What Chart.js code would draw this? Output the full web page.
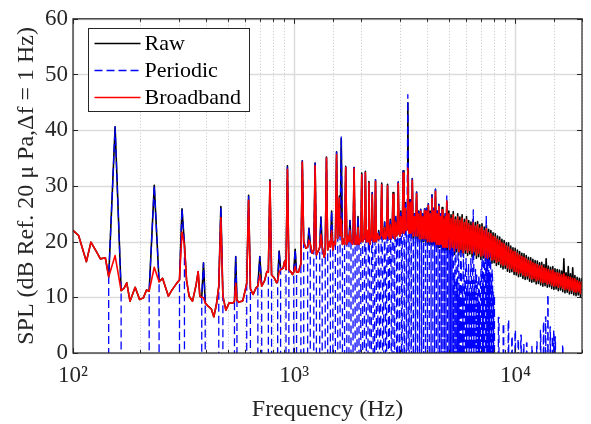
<!DOCTYPE html>
<html>
<head>
<meta charset="utf-8">
<script src="https://cdn.jsdelivr.net/npm/chart.js@4.4.1/dist/chart.umd.min.js"></script>
<style>
  html, body { margin: 0; padding: 0; background: #fff; }
  #wrap { width: 591px; height: 424px; }
</style>
</head>
<body>
<div id="wrap"><canvas id="spl"></canvas></div>
<script>
/* ── SPL spectrum: raw, periodic and broadband parts ── */

// common frequency grid (Hz) for the raw and broadband spectra
const freq = [
  100,106,115,120.5,128,133,140,145,155,165,
  170,175,181,191,200,208,215,221,233,245,
  254,270,279,294,303,311,319,326,335,347,
  360,368,374.5,382,389,396,408,422,433,445,
  456,466,476,491,508,530,537,544,551,562,
  586,610,622,634,652,672,685,699,713,735,
  752,764,777,790,812,833,842,855,868,890,
  905,918,932,946,965,983,995,1010,1025,1045,
  1062,1072,1088,1104,1130,1150,1166,1182,1205,1227,
  1243,1260,1290,1305,1321,1339,1365,1381,1399,1417,
  1445,1458,1476,1495,1520,1535,1554,1572,1600,1612,
  1632,1652,1680,1690,1709,1730,1755,1768,1787,1806,
  1835,1845,1865,1885,1912,1923,1943,1963,1990,2000,
  2020,2040,2065,2078,2098,2118,2145,2156,2176,2196,
  2225,2233,2253,2275,2300,2311,2331,2352,2380,2389,
  2409,2430,2460,2486,2508,2540,2564,2590,2618,2642,
  2668,2695,2720,2748,2772,2797,2822,2850,2875,2903,
  2928,2953,2980,3005,3030,3060,3082,3108,3135,3160,
  3186,3215,3238,3263,3292,3315,3341,3370,3395,3419,
  3450,3497,3535,3574,3612,3652,3690,3730,3770,3807,
  3846,3885,3925,3963,4000,4040,4080,4118,4160,4196,
  4235,4274,4310,4351,4390,4429,4470,4507,4545,4584,
  4625,4662,4700,4740,4780,4817,4855,4895,4935,
  5000,5058,5117,5176,5236,5297,5358,5420,5483,5546,
  5610,5675,5741,5808,5875,5943,6012,6081,6152,6223,
  6295,6368,6442,6516,6592,6668,6745,6823,6902,6982,
  7063,7145,7228,7311,7396,7482,7568,7656,7745,7834,
  7925,8017,8110,8204,8299,8395,8492,8590,8690,8790,
  8892,8995,9099,9204,9311,9419,9528,9638,9750,9863,
  9977,10093,10209,10328,10447,10568,10691,10814,10940,11066,
  11194,11324,11455,11588,11722,11858,11995,12134,12274,12417,
  12560,12706,12853,13002,13152,13305,13458,13614,13772,13932,
  14093,14256,14421,14588,14757,14928,15101,15276,15453,15631,
  15812,15996,16181,16368,16558,16749,16943,17140,17338,17539,
  17742,17947,18155,18365,18578,18793,19011,19231,19454,19679,
  19907,20000
];

// raw spectrum (dB)
const rawLevel = [
  22.0,21.1,16.4,19.9,18.1,16.9,17.1,13.7,40.6,11.2,
  11.6,12.6,9.3,11.8,9.6,9.9,11.3,11.1,30.1,12.8,
  13.4,10.2,11.2,12.5,13.1,25.9,19.5,13.1,10.2,9.3,
  12.2,14.6,10.2,10.0,16.2,9.0,8.4,7.9,6.5,8.7,
  11.9,26.3,10.2,7.7,9.0,9.0,9.3,17.3,9.5,9.1,
  9.4,12.5,28.3,11.5,10.5,11.7,12,17.3,12,13,
  14.6,14.5,31.1,14,13.5,12.6,13,18.3,15,15.2,
  16.5,15,33.6,15,14.6,14.1,14.5,18.6,14.5,14.5,
  15.5,16,34.5,19.9,18.8,19,22.4,19.6,17.9,18.5,
  34.1,17.6,18.5,19,24.4,19,17.2,18,35.2,18.5,
  20,19,25.5,18.5,20,19.5,36.1,20.5,28.2,21,
  38.5,19.5,20.5,19.5,33.5,19.5,21,20,23.8,20,
  19.5,20.5,33.3,19.5,21,19.5,24.5,19.5,20.5,20,
  32.3,20,21,20.5,32.6,20,22,20,30.8,19.5,
  21.1,20.5,28.8,20,21,20,31.1,20,21.4,20.5,
  22,20.5,21,30.5,21,20.5,23.5,20.5,21,30.3,
  21,20.5,24,20.5,21.5,28.8,21,20.5,24.5,21,
  21.5,30.7,21.5,21,25.5,21.5,22,32.7,21.5,22,
  27,22,22.5,44.9,22,21.5,27.5,21.5,22,31.3,
  20.5,25,20.5,28.9,20.5,25.5,20,25.8,20,25,
  20,25.9,20,26,19.5,26.8,19.5,25.5,19.5,28.4,
  19.5,26,19.5,29.4,19,25.5,19,26.7,19,25,
  19,26.1,18.5,24.5,18.5,25,18.5,27.3,18.5,
  25.5,18.0,24.8,18.4,25.4,17.7,24.4,18.2,25.0,17.6,
  24.4,18.0,24.8,17.4,24.0,17.9,24.5,17.5,23.8,17.8,
  23.5,17.3,24.0,17.6,23.4,17.0,23.6,17.3,23.0,16.8,
  23.2,17.0,22.6,16.6,22.9,16.4,22.2,16.7,22.0,16.1,
  21.6,16.2,21.4,15.7,21.0,15.9,20.8,15.4,20.4,15.1,
  20.2,15.2,19.8,14.7,19.8,14.5,19.2,14.6,18.9,14.1,
  18.8,14.0,18.5,13.7,18.2,13.8,17.9,13.4,17.8,13.2,
  17.5,13.3,17.2,12.9,17.1,12.7,16.8,12.8,16.6,12.4,
  16.5,12.5,16.2,12.2,16.3,12.0,15.9,12.1,16.9,11.8,
  15.6,11.9,15.4,11.6,15.5,11.4,15.1,11.5,15.0,11.2,
  14.9,11.3,14.7,11.0,16.9,10.8,14.4,10.9,15.5,10.6,
  14.2,10.7,15.3,10.4,13.9,10.3,13.6,10.4,13.4,10.1,
  13.3,11.2
];

// broadband part (dB)
const broadbandLevel = [
  22.0,21.1,16.4,19.9,18.1,16.9,17.1,13.7,17.5,11.2,
  11.6,12.6,9.3,11.8,9.6,9.9,11.3,11.1,15.4,12.8,
  13.4,10.2,11.2,12.5,13.1,21.7,19.4,13.1,10.2,9.3,
  12.2,14.6,10.2,10.0,9.9,9.0,8.4,7.9,6.5,8.7,
  11.9,24.3,10.2,7.7,9.0,9.0,9.3,12.5,9.5,9.1,
  9.4,12.5,27.4,11.5,10.5,11.7,12,14,12,13,
  14.6,14.5,30.8,14,13.5,12.6,13,14.5,15,15.2,
  16.5,15,33.0,15,14.6,14.1,14.5,15.5,14.5,14.5,
  15.5,16,34.3,19.9,18.8,19,20.3,19.6,17.9,18.5,
  33.6,17.6,18.5,19,21.3,19,17.2,18,35.0,18.5,
  20,19,22.0,18.5,20,19.5,35.6,20.5,27.8,21,
  24,19.5,20.5,19.5,33.3,19.5,21,20,22,20,
  19.5,20.5,33.1,19.5,21,19.5,22.5,19.5,20.5,20,
  32.0,20,21,20.5,32.4,20,22,20,30.5,19.5,
  21.1,20.5,28.4,20,21,20,30.8,20,21.4,20.5,
  21,20.5,21,30.2,21,20.5,22.5,20.5,21,30.0,
  21,20.5,23,20.5,21.5,28.5,21,20.5,23.5,21,
  21.5,30.4,21.5,21,24.5,21.5,22,32.3,21.5,22,
  26,22,22.5,33.2,22,21.5,27,21.5,22,31.0,
  21,24.5,21,28.6,21,25,20.5,25.5,20.5,24.5,
  20.5,25.6,20.5,25.5,20,26.5,20,25,20,27.8,
  20,25.5,20,29,19.5,25,19.5,26.3,19.5,24.5,
  19.5,25.7,19,24,19,24.5,19,27.3,19,
  25.0,18.6,24.2,19.0,24.8,18.3,23.9,18.8,24.4,18.2,
  23.8,18.6,24.2,18.0,23.4,18.5,23.9,18.1,23.2,18.4,
  22.9,17.9,23.4,18.2,22.8,17.6,23.0,17.9,22.4,17.4,
  22.6,17.6,22.0,17.2,22.3,17.0,21.6,17.3,21.4,16.7,
  21.0,16.8,20.8,16.3,20.4,16.5,20.2,16.0,19.8,15.7,
  19.6,15.8,19.2,15.3,19.0,15.1,18.6,15.2,18.3,14.7,
  18.2,14.6,17.9,14.3,17.6,14.4,17.3,14.0,17.2,13.8,
  16.9,13.9,16.6,13.5,16.5,13.3,16.2,13.4,16.0,13.0,
  15.9,13.1,15.6,12.8,15.7,12.6,15.3,12.7,15.2,12.4,
  15.0,12.5,14.8,12.2,14.9,12.0,14.5,12.1,14.4,11.8,
  14.3,11.9,14.1,11.6,14.2,11.4,13.8,11.5,13.7,11.2,
  13.6,11.3,13.4,11.0,13.3,10.9,13.0,11.0,12.8,10.7,
  12.7,11.6
];

// periodic part: one spike per harmonic (Hz), apex and shoulder levels (dB), half width (Hz)
const periodicFreq = [
  155,233,311,389,466,544,622,699,777,855,
  932,1010,1088,1166,1243,1321,1399,1476,1554,1632,
  1709,1787,1865,1943,2020,2098,2176,2253,2331,2409,
  2486,2564,2642,2720,2797,2875,2953,3030,3108,3186,
  3263,3341,3419,3497,3574,3652,3730,3807,3885,3963,
  4040,4118,4196,4274,4351,4429,4507,4584,4662,4740,
  4817,4895,4973,5051,5128,5206,5284,5361,5439,5517,
  5594,5672,5750,5828,5905,5983,6061,6138,6216,6294,
  6371,6449,6527,6605,6682,6760,6838,6915,6993,7071,
  7148,7226,7304,7382,7459,7537,7615,7692,7770,7848,
  7925,8003,
  8400,8830,9300,9650,9980,10300,10600,10900,11250,11900,
  12500,13000,13400,13700,14030,14370,14700,14920,15150,16370
];
const periodicPeak = [
  40.6,30.1,25.9,16.2,26.3,17.3,28.3,17.3,31.1,18.3,
  33.6,18.6,34.5,22.4,34.1,24.4,35.2,25.5,36.1,38.9,
  33.5,23.8,33.3,24.5,32.3,32.6,30.8,28.8,31.1,22,
  30.5,23.5,30.3,24,28.8,24.5,30.7,25.5,32.7,27,
  46.4,27.5,31.3,25,28.9,25.5,25.8,25,25.9,26,
  26.8,25.5,28.4,26,29.4,25.5,26.7,25,26.1,24.5,
  25,28.2,24.5,22,21,22,14,21,13,20,
  12,19,11,18,13,17,12,16,11,17,
  12,25.7,12,15,14,10,14,9,15,17,
  13,19,14,24.6,17,18,14,18,13,15,
  11,10.5,
  6.4,5.3,5.9,3,4.1,2.5,3.2,1.5,1.8,1.2,
  2,4.1,5.6,6.5,10.5,4.7,3,4.1,2.9,1.5
];
const periodicShoulderL = [
  13.7,11.1,13.1,10.0,11.9,9.3,12.5,12,14.5,13,
  15,14.5,16,19,18.5,19,18,19,19.5,21,
  19.5,20,20.5,19.5,20,13,12,11,12,11,
  12,11,13,13,17,18,18.5,18.5,19,19,
  19.5,19.5,19.5,19.5,19.5,19.5,20,20,20,19.5,
  19.5,19.5,19.5,19.5,19,19,19,19,18.5,18.5,
  18.5,18.5,18.5,18.5,17,16,11,15,10,14,
  9,13,9,12,10,13.8,9,12,8,13,
  9,15,9,12,12.3,8,11,7,12,14,
  10,16,12,17,14,15,12,16,11,13,
  9,10.5,
  6.4,5.3,5.9,3,4.1,2.5,3.2,1.5,1.8,1.2,
  2,4.1,5.6,6.5,10.5,4.7,3,4.1,2.9,1.5
];
const periodicShoulderR = [
  11.2,12.8,19.5,9.0,10.2,9.5,11.5,12,14,15,
  15,14.5,19.9,19.6,17.6,19,18.5,18.5,20.5,19.5,
  19.5,20,19.5,19.5,20,12,11,11,12,10,
  12,11,13,13,17,18,18.5,18.5,19,19,
  19.5,19.5,19.5,19.5,19.5,19.5,20,20,20,19.5,
  19.5,19.5,19.5,19.5,19,19,19,19,18.5,18.5,
  18.5,18.5,18.5,18.5,17,16,11,15,10,14,
  9,13,9,12,10,13.8,9,12,8,13,
  9,15,9,12,12.3,8,11,7,12,14,
  10,16,12,17,14,15,12,16,11,13,
  9,10.5,
  6.4,5.3,5.9,3,4.1,2.5,3.2,1.5,1.8,1.2,
  2,4.1,5.6,6.5,10.5,4.7,3,4.1,2.9,1.5
];
const periodicHalfWidth = [
  10,12,8,7,10,7,12,14,13,13,
  14,15,16,16,17,17,18,19,19,20,
  20,19,20,20,20,20,20,21,21,21,
  24,24,25,26,27,28,28,29,30,30,
  31,32,33,34,34,35,36,36,37,38,
  38,38,38,38,38,38,38,38,38,38,
  38,38,38,38,38,38,38,38,38,38,
  38,38,38,38,38,38,38,38,38,38,
  38,38,38,38,38,38,38,38,38,38,
  38,38,38,38,38,38,38,38,38,38,
  38,38,
  25,25,25,25,25,25,25,25,25,25,
  25,25,25,25,25,25,25,25,25,25
];

// axis tick labels
const decadeValues = [100, 1000, 10000];
const decadeLabels = ['10²', '10³', '10⁴'];
const seriesNames = ['Raw', 'Periodic', 'Broadband'];

const FLOOR = -300;      // periodic part is ~ -inf dB between harmonics
const AXIS = '#262626';
const FONT = "'Liberation Serif', 'Times New Roman', serif";

function _decadeIdx(v) { return decadeValues.findIndex(d => Math.abs(v - d) < d * 1e-6); }

function _periodicPts() {
  const out = [];
  periodicFreq.forEach((f, i) => {
    const hw = periodicHalfWidth[i];
    out.push({ x: f - hw - 0.3, y: FLOOR }, { x: f - hw, y: periodicShoulderL[i] },
             { x: f, y: periodicPeak[i] },
             { x: f + hw, y: periodicShoulderR[i] }, { x: f + hw + 0.3, y: FLOOR });
  });
  return out;
}

const matlabAxes = {
  id: 'matlabAxes',
  beforeDatasetsDraw(chart) {
    const { ctx, chartArea: a, scales: { x, y } } = chart;
    ctx.save();
    x.ticks.forEach(t => {
      const px = Math.round(x.getPixelForValue(t.value)) + 0.5;
      const major = _decadeIdx(t.value) >= 0;
      ctx.lineWidth = major ? 1.5 : 1;
      ctx.strokeStyle = major ? '#dcdcdc' : '#c4c4c4';
      ctx.setLineDash(major ? [] : [1, 2]);
      ctx.beginPath(); ctx.moveTo(px, a.top); ctx.lineTo(px, a.bottom); ctx.stroke();
    });
    ctx.setLineDash([]);
    ctx.lineWidth = 1.5;
    ctx.strokeStyle = '#dcdcdc';
    y.ticks.forEach(t => {
      const py = Math.round(y.getPixelForValue(t.value)) + 0.5;
      ctx.beginPath(); ctx.moveTo(a.left, py); ctx.lineTo(a.right, py); ctx.stroke();
    });
    ctx.restore();
  },
  afterDatasetsDraw(chart) {
    const { ctx, chartArea: a, scales: { x, y } } = chart;
    ctx.save();
    ctx.strokeStyle = AXIS;
    ctx.lineWidth = 1.2;
    ctx.strokeRect(a.left, a.top, a.right - a.left, a.bottom - a.top);
    ctx.lineWidth = 1;
    ctx.beginPath();
    x.ticks.forEach(t => {
      const px = Math.round(x.getPixelForValue(t.value)) + 0.5;
      const len = _decadeIdx(t.value) >= 0 ? 5 : 3;
      ctx.moveTo(px, a.bottom); ctx.lineTo(px, a.bottom - len);
      ctx.moveTo(px, a.top); ctx.lineTo(px, a.top + len);
    });
    y.ticks.forEach(t => {
      const py = Math.round(y.getPixelForValue(t.value)) + 0.5;
      ctx.moveTo(a.left, py); ctx.lineTo(a.left + 5, py);
      ctx.moveTo(a.right, py); ctx.lineTo(a.right - 5, py);
    });
    ctx.stroke();

    // legend box, top left inside the axes
    const bx = 88.5, by = 28.5, bw = 161, bh = 83;
    ctx.fillStyle = '#fff';
    ctx.fillRect(bx, by, bw, bh);
    ctx.strokeStyle = AXIS;
    ctx.lineWidth = 1;
    ctx.strokeRect(bx, by, bw, bh);
    ctx.font = '22px ' + FONT;
    ctx.textBaseline = 'middle';
    chart.data.datasets.forEach((ds, i) => {
      const ly = by + 15 + i * 27;
      ctx.strokeStyle = ds.borderColor;
      ctx.lineWidth = ds.borderWidth;
      ctx.setLineDash(ds.borderDash || []);
      ctx.beginPath(); ctx.moveTo(bx + 6, ly); ctx.lineTo(bx + 52, ly); ctx.stroke();
      ctx.setLineDash([]);
      ctx.fillStyle = '#000';
      ctx.fillText(ds.label, bx + 56, ly + 1);
    });
    ctx.restore();
  }
};

Chart.defaults.font.family = FONT;
Chart.defaults.color = AXIS;

new Chart(document.getElementById('spl'), {
  type: 'line',
  data: {
    datasets: [
      { label: seriesNames[0], data: freq.map((f, i) => ({ x: f, y: rawLevel[i] })),
        borderColor: '#000000', borderWidth: 1.6, order: 2 },
      { label: seriesNames[1], data: _periodicPts(),
        borderColor: '#0000ff', borderWidth: 1.3, borderDash: [8, 4], order: 1 },
      { label: seriesNames[2], data: freq.map((f, i) => ({ x: f, y: broadbandLevel[i] })),
        borderColor: '#ff0000', borderWidth: 1.6, order: 0 }
    ]
  },
  options: {
    responsive: true, maintainAspectRatio: false, animation: false, events: [],
    parsing: false, normalized: true,
    elements: { point: { radius: 0 }, line: { tension: 0, borderJoinStyle: 'round', fill: false } },
    layout: { padding: { top: 13, right: 7, left: 0, bottom: 0 } },
    plugins: { legend: { display: false }, tooltip: { enabled: false } },
    scales: {
      x: {
        type: 'logarithmic', min: 100, max: 20000,
        grid: { display: false, drawTicks: false }, border: { display: false },
        ticks: {
          autoSkip: false, maxRotation: 0, padding: 9, color: AXIS, font: { size: 23 },
          callback: v => { const i = _decadeIdx(v); return i >= 0 ? decadeLabels[i] : ''; }
        },
        title: { display: true, text: 'Frequency (Hz)', color: AXIS, font: { size: 24 }, padding: { top: 0, bottom: 0 } },
        afterFit: s => { s.height = 71; }
      },
      y: {
        min: 0, max: 60,
        grid: { display: false, drawTicks: false }, border: { display: false },
        ticks: { stepSize: 10, padding: 5, color: AXIS, font: { size: 23 } },
        title: { display: true, text: 'SPL (dB Ref. 20 μ Pa,Δf = 1 Hz)', color: AXIS, font: { size: 24 }, padding: { top: 12, bottom: 0 } },
        afterFit: s => { s.width = 73; }
      }
    }
  },
  plugins: [matlabAxes]
});
</script>
</body>
</html>
